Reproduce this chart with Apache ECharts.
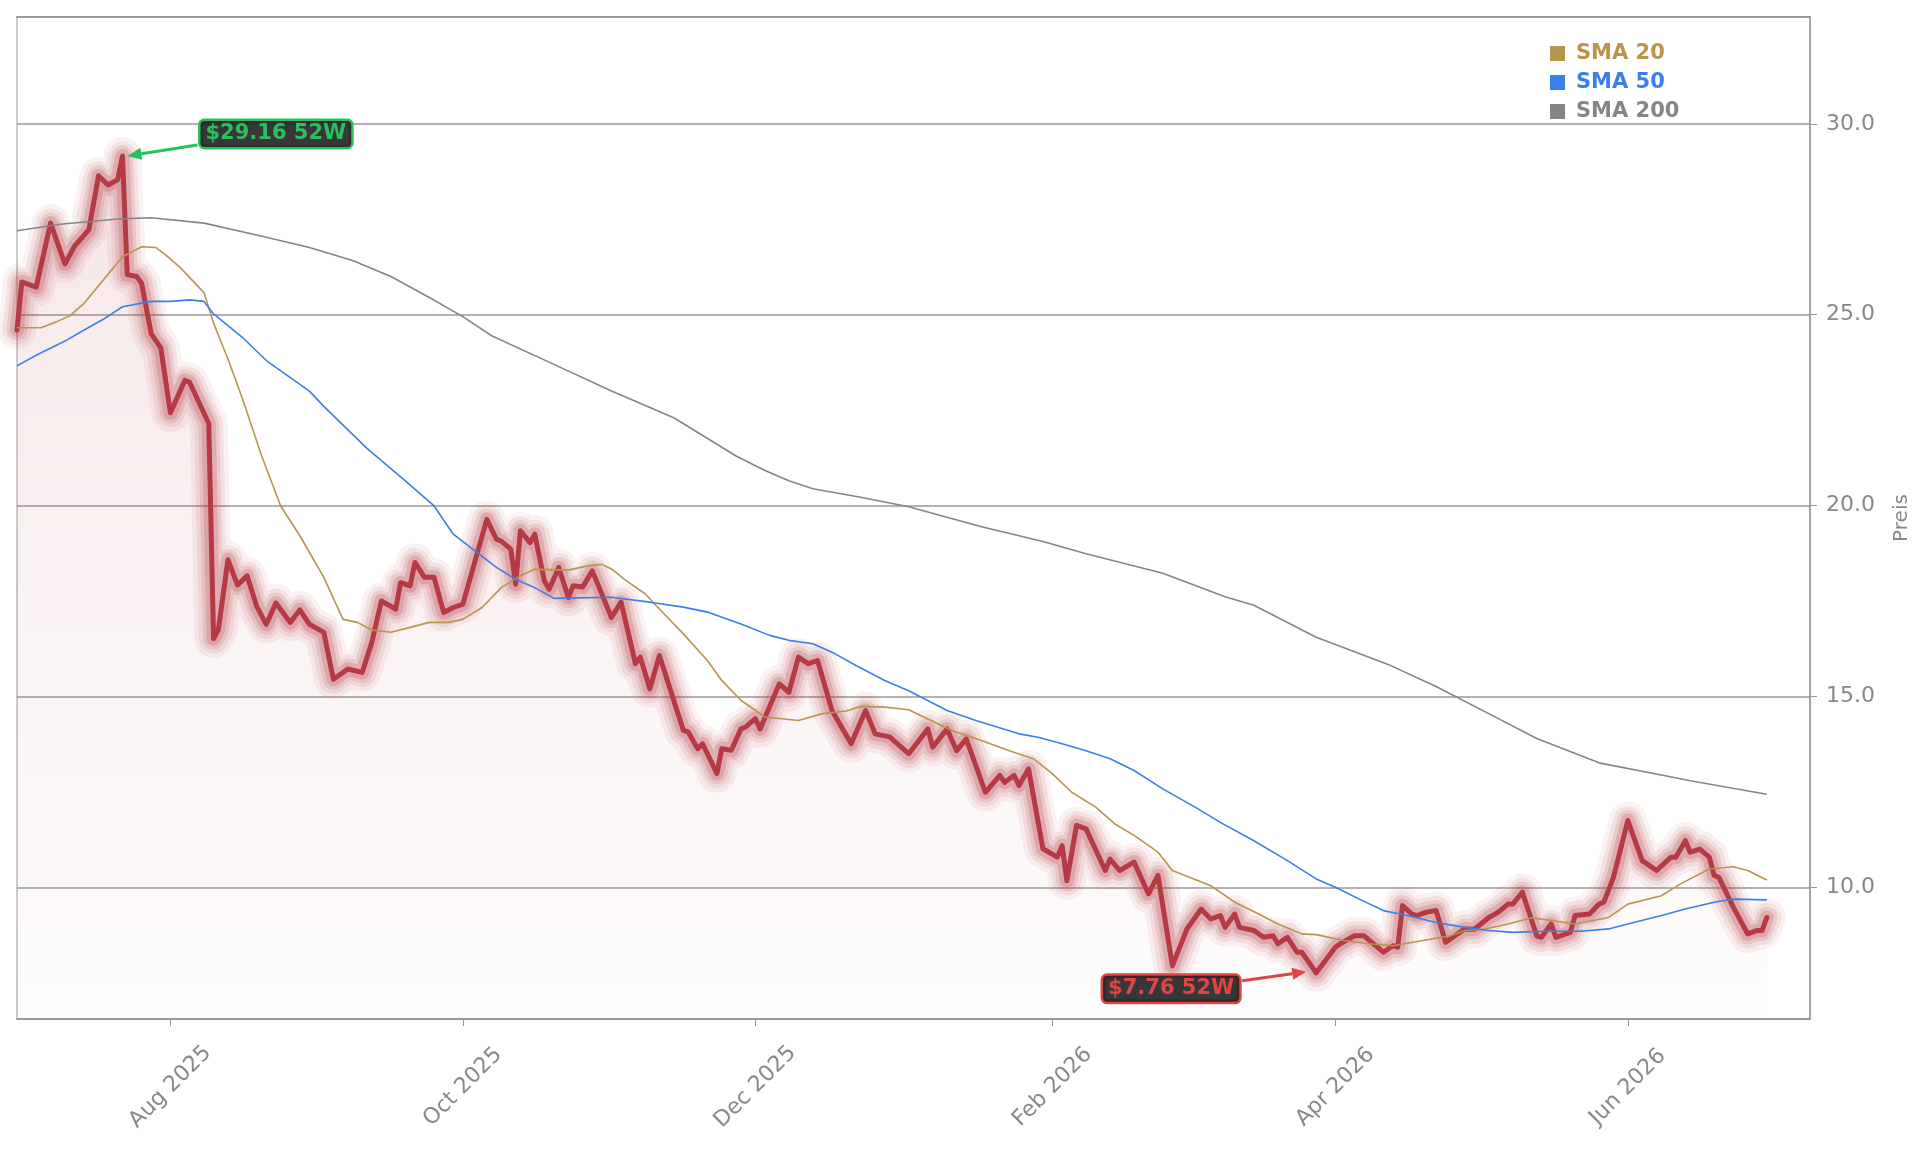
<!DOCTYPE html>
<html>
<head>
<meta charset="utf-8">
<title>Preis</title>
<script src="https://cdn.jsdelivr.net/npm/echarts@6/dist/echarts.min.js"></script>
<style>
  html, body { margin: 0; padding: 0; background: #fff; }
  #chart { width: 1929px; height: 1151px; }
</style>
</head>
<body>
<div id="chart"></div>
<script>
// price (closing)
const priceDates = [
  '2025-06-30','2025-07-01','2025-07-04','2025-07-07','2025-07-10','2025-07-12','2025-07-15','2025-07-17','2025-07-19','2025-07-21',
  '2025-07-22','2025-07-23','2025-07-25','2025-07-26','2025-07-28','2025-07-30','2025-08-01','2025-08-04','2025-08-05','2025-08-09',
  '2025-08-10','2025-08-11','2025-08-13','2025-08-15','2025-08-17','2025-08-19','2025-08-21','2025-08-23','2025-08-26','2025-08-28',
  '2025-08-30','2025-09-02','2025-09-04','2025-09-07','2025-09-10','2025-09-12','2025-09-14','2025-09-17','2025-09-18','2025-09-20',
  '2025-09-21','2025-09-23','2025-09-25','2025-09-27','2025-09-29','2025-10-01','2025-10-06','2025-10-08','2025-10-09','2025-10-11',
  '2025-10-12','2025-10-13','2025-10-15','2025-10-16','2025-10-18','2025-10-19','2025-10-21','2025-10-23','2025-10-24','2025-10-26',
  '2025-10-28','2025-11-01','2025-11-03','2025-11-06','2025-11-07','2025-11-09','2025-11-11','2025-11-16','2025-11-17','2025-11-19',
  '2025-11-20','2025-11-23','2025-11-24','2025-11-26','2025-11-28','2025-11-29','2025-12-01','2025-12-02','2025-12-06','2025-12-08',
  '2025-12-10','2025-12-12','2025-12-14','2025-12-17','2025-12-21','2025-12-24','2025-12-26','2025-12-29','2026-01-02','2026-01-06',
  '2026-01-07','2026-01-10','2026-01-12','2026-01-14','2026-01-18','2026-01-21','2026-01-22','2026-01-24','2026-01-25','2026-01-27',
  '2026-01-30','2026-02-02','2026-02-03','2026-02-04','2026-02-06','2026-02-08','2026-02-12','2026-02-13','2026-02-15','2026-02-18',
  '2026-02-21','2026-02-23','2026-02-26','2026-03-01','2026-03-04','2026-03-06','2026-03-08','2026-03-09','2026-03-11','2026-03-12',
  '2026-03-15','2026-03-17','2026-03-19','2026-03-20','2026-03-22','2026-03-24','2026-03-25','2026-03-28','2026-04-01','2026-04-02',
  '2026-04-05','2026-04-07','2026-04-11','2026-04-13','2026-04-14','2026-04-15','2026-04-17','2026-04-18','2026-04-20','2026-04-22',
  '2026-04-24','2026-04-28','2026-04-30','2026-05-03','2026-05-05','2026-05-07','2026-05-08','2026-05-10','2026-05-13','2026-05-14',
  '2026-05-16','2026-05-17','2026-05-20','2026-05-21','2026-05-24','2026-05-26','2026-05-27','2026-05-29','2026-06-01','2026-06-04',
  '2026-06-07','2026-06-10','2026-06-11','2026-06-13','2026-06-14','2026-06-16','2026-06-18','2026-06-19','2026-06-20','2026-06-22',
  '2026-06-23','2026-06-26','2026-06-28','2026-06-29','2026-06-30'
];
const priceValues = [
  24.6, 25.86, 25.72, 27.4, 26.33, 26.8, 27.23, 28.64, 28.4, 28.54,
  29.16, 26.05, 26.0, 25.82, 24.5, 24.13, 22.43, 23.28, 23.23, 22.15,
  16.51, 16.75, 18.58, 17.92, 18.16, 17.36, 16.89, 17.45, 16.94, 17.27,
  16.89, 16.68, 15.45, 15.72, 15.63, 16.41, 17.5, 17.29, 17.98, 17.9,
  18.51, 18.12, 18.12, 17.2, 17.33, 17.42, 19.64, 19.12, 19.07, 18.86,
  17.94, 19.34, 19.03, 19.25, 18.03, 17.81, 18.38, 17.59, 17.9, 17.87,
  18.29, 17.07, 17.47, 15.86, 16.03, 15.2, 16.07, 14.11, 14.07, 13.63,
  13.76, 12.98, 13.63, 13.59, 14.15, 14.2, 14.42, 14.15, 15.33, 15.11,
  16.03, 15.86, 15.94, 14.63, 13.76, 14.63, 14.02, 13.94, 13.5, 14.15,
  13.67, 14.15, 13.58, 13.89, 12.49, 12.93, 12.75, 12.93, 12.67, 13.1,
  11.01, 10.79, 11.09, 10.17, 11.62, 11.53, 10.44, 10.74, 10.44, 10.66,
  9.83, 10.31, 7.94, 8.9, 9.43, 9.17, 9.26, 8.95, 9.3, 8.95,
  8.87, 8.69, 8.73, 8.52, 8.69, 8.3, 8.3, 7.76, 8.43, 8.52,
  8.73, 8.73, 8.3, 8.47, 8.43, 9.52, 9.3, 9.26, 9.35, 9.39,
  8.56, 8.91, 8.9, 9.21, 9.35, 9.56, 9.56, 9.87, 8.73, 8.69,
  9.04, 8.69, 8.82, 9.26, 9.3, 9.56, 9.61, 10.26, 11.75, 10.7,
  10.44, 10.79, 10.79, 11.22, 10.92, 11.0, 10.79, 10.31, 10.26, 9.74,
  9.48, 8.78, 8.87, 8.87, 9.21
];

const sma20Dates = [
  '2025-06-30','2025-07-05','2025-07-08','2025-07-11','2025-07-14','2025-07-18','2025-07-22','2025-07-26','2025-07-29','2025-07-31',
  '2025-08-03','2025-08-08','2025-08-10','2025-08-13','2025-08-16','2025-08-20','2025-08-24','2025-08-28','2025-09-02','2025-09-06',
  '2025-09-09','2025-09-12','2025-09-16','2025-09-20','2025-09-24','2025-09-28','2025-10-01','2025-10-05','2025-10-09','2025-10-13',
  '2025-10-16','2025-10-23','2025-10-27','2025-10-30','2025-11-01','2025-11-04','2025-11-08','2025-11-12','2025-11-16','2025-11-21',
  '2025-11-24','2025-11-28','2025-12-03','2025-12-10','2025-12-15','2025-12-20','2025-12-23','2025-12-28','2026-01-02','2026-01-06',
  '2026-01-11','2026-01-17','2026-01-23','2026-01-28','2026-02-01','2026-02-05','2026-02-10','2026-02-14','2026-02-18','2026-02-23',
  '2026-02-26','2026-03-03','2026-03-06','2026-03-11','2026-03-16','2026-03-20','2026-03-25','2026-03-28','2026-04-03','2026-04-08',
  '2026-04-13','2026-04-19','2026-04-25','2026-04-28','2026-05-02','2026-05-07','2026-05-12','2026-05-16','2026-05-21','2026-05-28',
  '2026-06-01','2026-06-08','2026-06-12','2026-06-18','2026-06-23','2026-06-26','2026-06-30'
];
const sma20Values = [
  24.66, 24.66, 24.8, 24.97, 25.3, 25.91, 26.52, 26.78, 26.76, 26.57,
  26.24, 25.58, 24.78, 23.84, 22.81, 21.31, 19.99, 19.21, 18.12, 17.02,
  16.94, 16.74, 16.68, 16.81, 16.94, 16.94, 17.02, 17.33, 17.85, 18.16,
  18.33, 18.31, 18.42, 18.46, 18.34, 18.04, 17.69, 17.16, 16.64, 15.94,
  15.42, 14.9, 14.46, 14.37, 14.55, 14.62, 14.74, 14.72, 14.65, 14.41,
  14.11, 13.85, 13.58, 13.37, 12.97, 12.49, 12.1, 11.66, 11.36, 10.92,
  10.44, 10.19, 10.04, 9.61, 9.3, 9.04, 8.78, 8.76, 8.6, 8.52,
  8.47, 8.6, 8.73, 8.87, 8.9, 9.04, 9.2, 9.13, 9.04, 9.21,
  9.56, 9.78, 10.09, 10.48, 10.54, 10.44, 10.19
];

const sma50Dates = [
  '2025-06-30','2025-07-04','2025-07-10','2025-07-14','2025-07-18','2025-07-22','2025-07-28','2025-08-01','2025-08-05','2025-08-08',
  '2025-08-10','2025-08-16','2025-08-21','2025-08-30','2025-09-02','2025-09-11','2025-09-19','2025-09-25','2025-09-29','2025-10-04',
  '2025-10-08','2025-10-12','2025-10-16','2025-10-20','2025-11-01','2025-11-09','2025-11-16','2025-11-21','2025-11-28','2025-12-04',
  '2025-12-08','2025-12-13','2025-12-17','2025-12-22','2025-12-28','2026-01-02','2026-01-10','2026-01-16','2026-01-25','2026-01-29',
  '2026-02-03','2026-02-08','2026-02-13','2026-02-18','2026-02-24','2026-03-03','2026-03-08','2026-03-15','2026-03-22','2026-03-28',
  '2026-04-01','2026-04-06','2026-04-11','2026-04-16','2026-04-22','2026-04-28','2026-05-03','2026-05-08','2026-05-15','2026-05-22',
  '2026-05-28','2026-06-01','2026-06-08','2026-06-13','2026-06-19','2026-06-23','2026-06-30'
];
const sma50Values = [
  23.66, 23.94, 24.31, 24.6, 24.88, 25.21, 25.35, 25.35, 25.39, 25.35,
  25.02, 24.41, 23.8, 23.0, 22.6, 21.5, 20.65, 19.99, 19.25, 18.77,
  18.38, 18.07, 17.85, 17.57, 17.6, 17.47, 17.34, 17.21, 16.9, 16.6,
  16.47, 16.38, 16.16, 15.81, 15.42, 15.15, 14.63, 14.37, 14.02, 13.93,
  13.76, 13.58, 13.37, 13.06, 12.58, 12.08, 11.7, 11.22, 10.7, 10.22,
  10.0, 9.69, 9.39, 9.26, 9.08, 8.95, 8.87, 8.82, 8.85, 8.85,
  8.91, 9.04, 9.26, 9.43, 9.61, 9.69, 9.67
];

const sma200Dates = [
  '2025-06-30','2025-07-09','2025-07-21','2025-07-28','2025-08-08','2025-08-19','2025-08-30','2025-09-08','2025-09-16','2025-09-24',
  '2025-10-01','2025-10-07','2025-10-20','2025-11-01','2025-11-14','2025-11-27','2025-12-03','2025-12-08','2025-12-13','2025-12-23',
  '2026-01-02','2026-01-17','2026-01-30','2026-02-08','2026-02-24','2026-03-09','2026-03-15','2026-03-28','2026-04-12','2026-04-22',
  '2026-05-03','2026-05-13','2026-05-26','2026-06-08','2026-06-14','2026-06-30'
];
const sma200Values = [
  27.2, 27.37, 27.51, 27.54, 27.4, 27.09, 26.76, 26.42, 26.0, 25.45,
  24.95, 24.45, 23.7, 23.0, 22.3, 21.3, 20.92, 20.65, 20.44, 20.22,
  19.97, 19.45, 19.06, 18.74, 18.23, 17.61, 17.39, 16.55, 15.84, 15.26,
  14.55, 13.9, 13.26, 12.94, 12.79, 12.44
];

const yTicks = [10, 15, 20, 25, 30];
const xTickDates = ['2025-08-01', '2025-10-01', '2025-12-01', '2026-02-01', '2026-04-01', '2026-06-01'];
const monthNames = ['Jan','Feb','Mar','Apr','May','Jun','Jul','Aug','Sep','Oct','Nov','Dec'];

const FONT = '"DejaVu Sans", sans-serif';
const GOLD = '#b8944d';
const BLUE = '#3b7fe8';
const GREY = '#858585';
const RED = '#b53a44';
const AXIS = '#999999';
const TEXT = '#888888';

// dates -> local-midnight timestamps so a plain value axis can carry them
const ts = s => { const [y, m, d] = s.split('-').map(Number); return new Date(y, m - 1, d).getTime(); };
const pairs = (ds, vs) => ds.map((d, i) => [ts(d), vs[i]]);
const priceData = pairs(priceDates, priceValues);
const xTicks = xTickDates.map(ts);
const xMin = ts('2025-06-30');
const xMax = ts('2026-07-09');

const chart = echarts.init(document.getElementById('chart'), null, { renderer: 'canvas' });

// soft halo round the price line, several translucent strokes
const glow = [[38, 0.07], [29, 0.09], [21, 0.13], [14, 0.2]].map(([w, a]) => ({
  type: 'line',
  data: priceData,
  symbol: 'none',
  silent: true,
  lineStyle: { width: w, color: `rgba(179,54,63,${a})`, cap: 'round', join: 'round' }
}));

const smaLine = (name, ds, vs, color) => ({
  name,
  type: 'line',
  data: pairs(ds, vs),
  symbol: 'none',
  color,
  silent: true,
  lineStyle: { width: 1.6, color }
});

chart.setOption({
  animation: false,
  backgroundColor: '#fff',
  textStyle: { fontFamily: FONT },
  grid: {
    left: 17, right: 119, top: 17, bottom: 132,
    show: true, borderColor: AXIS, borderWidth: 1, backgroundColor: 'transparent'
  },
  legend: {
    orient: 'vertical',
    left: 1545,
    top: 38,
    icon: 'rect',
    itemWidth: 15,
    itemHeight: 15,
    itemGap: 8,
    selectedMode: false,
    textStyle: { fontFamily: FONT, fontWeight: 'bold', fontSize: 21, padding: [0, 0, 0, 6] },
    data: [
      { name: 'SMA 20', textStyle: { color: GOLD } },
      { name: 'SMA 50', textStyle: { color: BLUE } },
      { name: 'SMA 200', textStyle: { color: GREY } }
    ]
  },
  xAxis: [{
    type: 'value',
    min: xMin,
    max: xMax,
    axisLine: { onZero: false, lineStyle: { color: AXIS, width: 2 } },
    axisTick: { show: true, customValues: xTicks, length: 7, lineStyle: { color: AXIS, width: 1 } },
    axisLabel: {
      customValues: xTicks,
      rotate: 45,
      align: 'center',
      verticalAlign: 'middle',
      margin: 68,
      color: TEXT,
      fontSize: 22,
      fontFamily: FONT,
      formatter: v => { const d = new Date(v); return monthNames[d.getMonth()] + ' ' + d.getFullYear(); }
    },
    splitLine: { show: false }
  }, {
    type: 'value',
    position: 'top',
    min: xMin,
    max: xMax,
    axisLine: { onZero: false, lineStyle: { color: AXIS, width: 2 } },
    axisTick: { show: false },
    axisLabel: { show: false },
    splitLine: { show: false }
  }],
  yAxis: {
    type: 'value',
    position: 'right',
    min: 6.55,
    max: 32.8,
    name: 'Preis',
    nameLocation: 'middle',
    nameRotate: 90,
    nameGap: 82,
    nameTextStyle: { color: TEXT, fontSize: 20, fontFamily: FONT },
    axisLine: { show: true, onZero: false, lineStyle: { color: AXIS, width: 1.5 } },
    axisTick: { show: true, customValues: yTicks, length: 7, lineStyle: { color: AXIS, width: 1 } },
    axisLabel: { customValues: yTicks, color: TEXT, fontSize: 22, fontFamily: FONT, margin: 16, formatter: v => v.toFixed(1) },
    splitLine: { show: true, lineStyle: { color: AXIS, width: 1.5 } }
  },
  series: [
    {
      type: 'line',
      data: priceData,
      symbol: 'none',
      silent: true,
      lineStyle: { width: 0 },
      areaStyle: {
        origin: 'start',
        color: new echarts.graphic.LinearGradient(0, 0, 0, 1, [
          { offset: 0, color: 'rgba(179,54,63,0.17)' },
          { offset: 1, color: 'rgba(179,54,63,0.02)' }
        ])
      }
    },
    ...glow,
    {
      type: 'line',
      data: priceData,
      symbol: 'none',
      silent: true,
      lineStyle: { width: 5, color: RED, cap: 'round', join: 'round' }
    },
    smaLine('SMA 20', sma20Dates, sma20Values, GOLD),
    smaLine('SMA 50', sma50Dates, sma50Values, BLUE),
    smaLine('SMA 200', sma200Dates, sma200Values, GREY)
  ]
});

// 52-week high / low call-outs, placed from the data point through the axes
function callout(idx, text, color, dx, dy, anchor) {
  const p = chart.convertToPixel({ xAxisIndex: 0, yAxisIndex: 0 }, [ts(priceDates[idx]), priceValues[idx]]);
  const bx = p[0] + dx, by = p[1] + dy;
  const sx = anchor === 'left' ? bx - 3 : bx + 3;
  const sy = by + (anchor === 'left' ? 11 : -8);
  const tx = p[0] + (anchor === 'left' ? 5 : -10);
  const ty = p[1] + (anchor === 'left' ? 0 : -1);
  const ang = Math.atan2(ty - sy, tx - sx);
  const hl = 14, hw = 6;
  const bxh = tx - hl * Math.cos(ang), byh = ty - hl * Math.sin(ang);
  return [
    {
      type: 'line', z: 100, silent: true,
      shape: { x1: sx, y1: sy, x2: bxh, y2: byh },
      style: { stroke: color, lineWidth: 3 }
    },
    {
      type: 'polygon', z: 100, silent: true,
      shape: { points: [
        [tx, ty],
        [bxh + hw * Math.sin(ang), byh - hw * Math.cos(ang)],
        [bxh - hw * Math.sin(ang), byh + hw * Math.cos(ang)]
      ] },
      style: { fill: color }
    },
    {
      type: 'text', z: 101, silent: true,
      x: bx, y: by,
      style: {
        text,
        fill: color,
        font: 'bold 21px ' + FONT,
        align: anchor,
        verticalAlign: 'middle',
        backgroundColor: 'rgba(38,38,38,0.92)',
        borderColor: color,
        borderWidth: 2.5,
        borderRadius: 4,
        padding: [3, 5, 2, 5]
      }
    }
  ];
}

const hi = priceValues.indexOf(Math.max(...priceValues));
const lo = priceValues.indexOf(Math.min(...priceValues));
chart.setOption({
  graphic: [
    ...callout(hi, '$' + priceValues[hi].toFixed(2) + ' 52W', '#2bbf5e', 78, -22, 'left'),
    ...callout(lo, '$' + priceValues[lo].toFixed(2) + ' 52W', '#e04444', -77, 16, 'right')
  ]
});
</script>
</body>
</html>
